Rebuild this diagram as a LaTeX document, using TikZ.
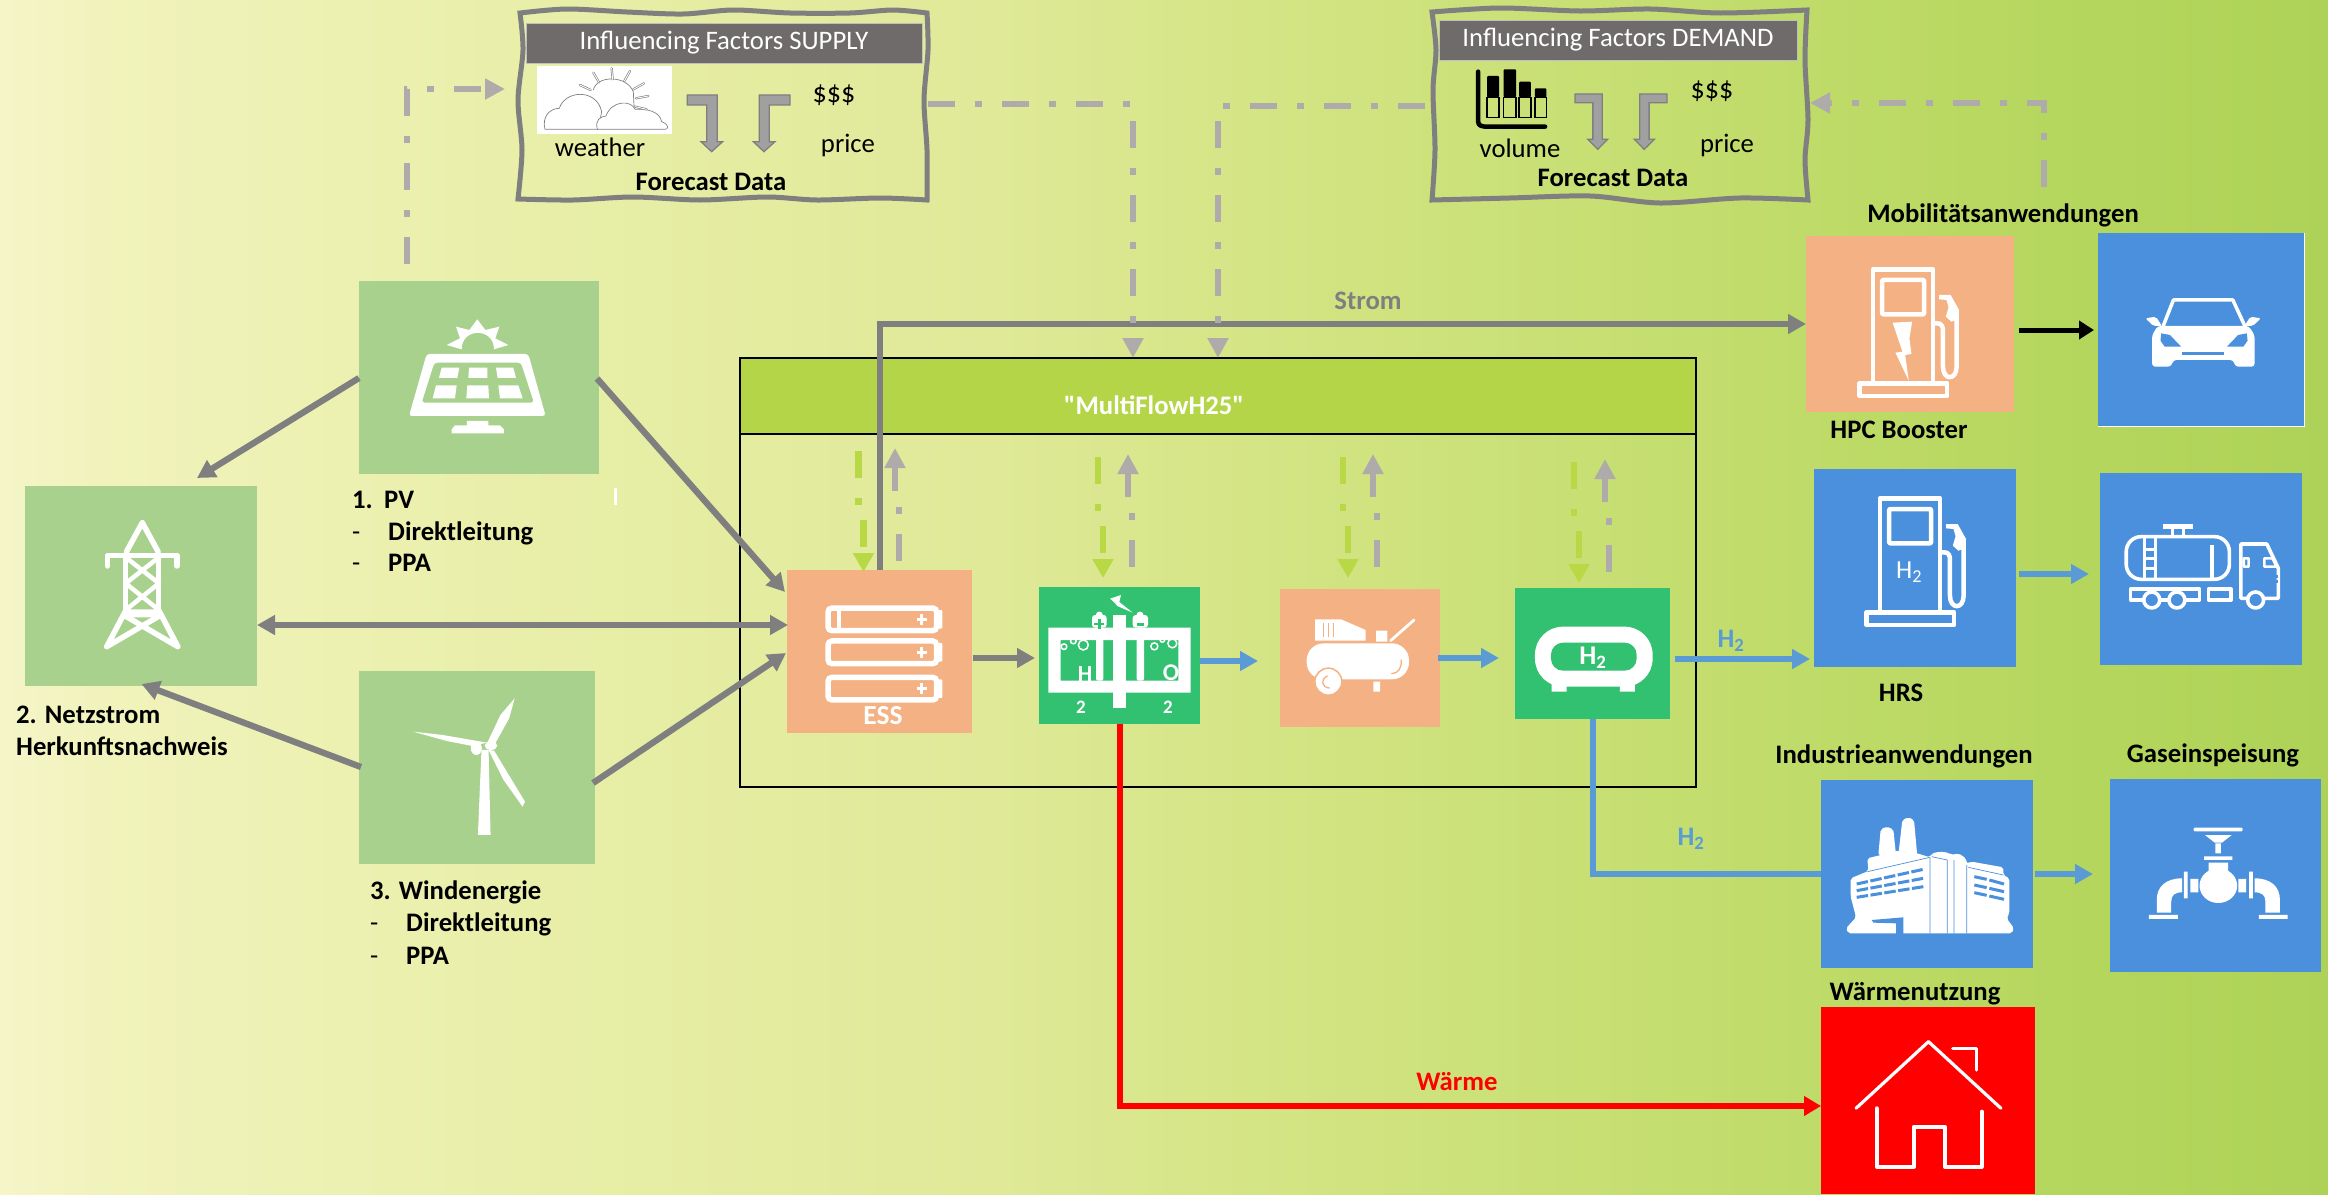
\documentclass[tikz,border=0pt]{standalone}
\usepackage{fontspec}
\setmainfont{Carlito}
\newfontfamily\rawcarlito{Carlito}
\usetikzlibrary{arrows.meta,calc}
\definecolor{bg0}{HTML}{F5F5C9}\definecolor{bg1}{HTML}{F1F3BC}\definecolor{bg2}{HTML}{E9EFAA}
\definecolor{bg3}{HTML}{DFE997}\definecolor{bg4}{HTML}{D5E586}\definecolor{bg5}{HTML}{C3DD6E}
\definecolor{bg6}{HTML}{B4D65C}\definecolor{bg7}{HTML}{AED257}
\pgfdeclarehorizontalshading{bgshade}{100bp}{color(0bp)=(bg0); color(25bp)=(bg0); color(27.1bp)=(bg1); color(35.7bp)=(bg2); color(46.5bp)=(bg3); color(51.6bp)=(bg4); color(61.5bp)=(bg5); color(70.1bp)=(bg6); color(75bp)=(bg7); color(100bp)=(bg7)}
\definecolor{srcgreen}{HTML}{A9D18E}\definecolor{peach}{HTML}{F4B183}\definecolor{h2green}{HTML}{32C071}
\definecolor{appblue}{HTML}{4A90DD}\definecolor{linegrey}{HTML}{7F7F7F}\definecolor{siggrey}{HTML}{AFABAB}
\definecolor{siggreen}{HTML}{B8D846}\definecolor{headgreen}{HTML}{B4D548}\definecolor{flowblue}{HTML}{5B9BD5}
\definecolor{headgrey}{HTML}{6F6B6B}\definecolor{bentgrey}{HTML}{A0A0A0}
\tikzset{
 nbox/.style={draw=none,inner sep=0pt,outer sep=0pt},
 lbl/.style={inner sep=0pt,text height=20pt,text depth=3pt,font=\fontsize{26.7}{30}\selectfont\bfseries,text=black},
 rgl/.style={inner sep=0pt,text height=20pt,text depth=3pt,font=\fontsize{26.7}{30}\selectfont,text=black},
 flowg/.style={draw=linegrey,line width=6.3pt,-{Triangle[length=18pt,width=19pt]}},
 flowb/.style={draw=flowblue,line width=6pt,-{Triangle[length=18pt,width=19pt]}},
 sigdash/.style={dash pattern=on 27pt off 20pt on 7pt off 20pt},
 sigg/.style={draw=siggrey,line width=6.7pt,sigdash,-{Triangle[length=20pt,width=20pt]}},
 sigb/.style={draw=siggreen,line width=6.7pt,sigdash,-{Triangle[length=19pt,width=20pt]}},
 iconline/.style={draw=white,line width=4.5pt,line join=round},
 rough/.style={draw=linegrey,line width=5pt,line join=miter},
 bent/.style={draw=linegrey,line width=1.3pt,fill=bentgrey},
}
\newcommand\pumpicon{
 \draw[iconline] (266,148) rectangle (438,490);
 \draw[iconline,rounded corners=1pt] (292,180) rectangle (412,283);
 \draw[iconline] (227,490) rectangle (478,528);
 \draw[iconline] (438,310) -- (450,310) .. controls (462,310) and (466,320) .. (466,332) -- (466,440) .. controls (466,482) and (505,482) .. (505,440) -- (505,270);
 \fill[white] (455,225) -- (488,225) -- (512,270) -- (510,298) -- (490,305) -- (474,290) -- (482,262) -- (476,240) -- (455,238) -- cycle;
}
\newcommand\sigpair[4]{%
 \coordinate (t#1) at ($(#1.north west)+(#2,#3)$);
 \draw[sigb] ($(t#1)+(-5,-121)$) -- ($(t#1)+(-5,-60.5)$) -- ($(t#1)+(0,-60.5)$) -- (t#1);
 \draw[sigg] ($(t#1)+(#4,-11)$) -- ($(t#1)+(#4,-71)$) -- ($(t#1)+(#4-4,-71)$) -- ($(t#1)+(#4-4,-124)$);
}
\begin{document}
\begin{tikzpicture}[x=1pt,y=-1pt]
\useasboundingbox (0,0) rectangle (2328,1194);
\shade[shading=bgshade] (0,0) rectangle (2328,1194);
% container
\fill[headgreen] (740,358) rectangle (1696,434);
\draw[black,line width=1.8pt] (740,358) rectangle (1696,787);
\draw[black,line width=1.8pt] (740,434) -- (1696,434);
\node[inner sep=0pt,text=white,font=\fontsize{26.7}{30}\selectfont\rawcarlito\bfseries] (mf) at (1154,405) {"MultiFlowH25"};
% boxes
\node[nbox,fill=srcgreen,minimum width=240pt,minimum height=193pt] (pv) at (479,377.5) {};
\node[nbox,fill=srcgreen,minimum width=232pt,minimum height=200pt] (grid) at (141,586) {};
\node[nbox,fill=srcgreen,minimum width=236pt,minimum height=193pt] (wind) at (477,767.5) {};
\node[nbox,fill=peach,minimum width=185pt,minimum height=163pt] (ess) at (879.5,651.5) {};
\node[nbox,fill=h2green,minimum width=161pt,minimum height=137pt] (elec) at (1119.5,655.5) {};
\node[nbox,fill=peach,minimum width=160pt,minimum height=138pt] (comp) at (1360,658) {};
\node[nbox,fill=h2green,minimum width=155pt,minimum height=131pt] (tank) at (1592.5,653.5) {};
\node[nbox,fill=peach,minimum width=208pt,minimum height=176pt] (hpc) at (1910,324) {};
\node[nbox,fill=appblue,minimum width=206pt,minimum height=193pt] (car) at (2201,329.5) {};
\node[nbox,fill=appblue,minimum width=202pt,minimum height=198pt] (hrs) at (1915,568) {};
\node[nbox,fill=appblue,minimum width=202pt,minimum height=192pt] (truck) at (2201,569) {};
\node[nbox,fill=appblue,minimum width=212pt,minimum height=188pt] (ind) at (1927,874) {};
\node[nbox,fill=appblue,minimum width=211pt,minimum height=193pt] (gas) at (2215.5,875.5) {};
\node[nbox,fill=red,minimum width=214pt,minimum height=187pt] (house) at (1928,1100.5) {};
\draw[white,line width=.9pt] (car.north east) -- (car.south east) -- (car.south west);
% supply box
\draw[rough] plot[smooth,tension=.5] coordinates {(520,13)(567,9)(627,12)(683,14)(733,10)(790,13)(850,13)(893,10)(927,13)}
 -- plot[smooth,tension=.5] coordinates {(927,13)(928,50)(924,100)(927,150)(927,200)}
 -- plot[smooth,tension=.5] coordinates {(927,200)(880,198)(817,200)(767,197)(700,200)(633,197)(573,200)(518,199)}
 -- plot[smooth,tension=.5] coordinates {(518,199)(522,150)(518,100)(523,50)(520,13)} -- cycle;
\node[nbox,fill=headgrey,draw=lightgray,line width=.6pt,minimum width=396pt,minimum height=40pt,text=white,font=\fontsize{26.7}{28}\selectfont] (suphead) at (724,43) {Influencing Factors SUPPLY};
\node[nbox,fill=white,minimum width=135pt,minimum height=68pt] (cloud) at (604.5,100) {};
\begin{scope}[shift={(500,0)},x=.3333pt,y=-.3333pt,draw=gray,line width=.7pt]
 \draw (280,270) .. controls (290,225) and (380,225) .. (400,275) -- (402,318);
 \draw[fill=white] (135,388) .. controls (125,350) and (150,325) .. (178,325) .. controls (195,270) and (290,265) .. (305,335) -- (295,388) -- cycle;
 \draw[fill=white] (292,388) .. controls (285,360) and (300,350) .. (318,348) .. controls (335,300) and (395,300) .. (405,328) .. controls (440,325) and (480,335) .. (485,365) .. controls (510,375) and (505,388) .. (495,388) -- cycle;
 \foreach \a/\b/\c/\d in {240/255/272/270, 280/218/297/247, 335/205/338/238, 390/213/373/243, 432/250/400/268, 445/288/408/295, 440/328/405/320}{
  \draw[line width=2.2pt,line cap=round] (\a,\b) -- (\c,\d);
  \draw[white,line width=.9pt,line cap=round] (\a,\b) -- (\c,\d);}
 \draw[bent] (562,285) -- (652,285) -- (652,425) -- (668,425) -- (635,455) -- (603,425) -- (620,425) -- (620,315) -- (562,315) -- cycle;
 \draw[bent] (870,285) -- (778,285) -- (778,425) -- (760,425) -- (792,455) -- (825,425) -- (808,425) -- (808,315) -- (870,315) -- cycle;
\end{scope}
\node[rgl] (weather) at (600,148) {weather};
\node[rgl,font=\fontsize{28}{30}\selectfont] (supd) at (834,94) {\$\$\$};
\node[rgl] (supp) at (848,144) {price};
\node[lbl] (supf) at (711,182) {Forecast Data};
% demand box
\draw[rough] plot[smooth,tension=.5] coordinates {(1432,12)(1500,8)(1580,11)(1650,9)(1720,13)(1807,10)}
 -- plot[smooth,tension=.5] coordinates {(1807,10)(1805,60)(1808,120)(1805,160)(1808,200)}
 -- plot[smooth,tension=.5] coordinates {(1808,200)(1740,198)(1660,203)(1590,196)(1510,198)(1432,200)}
 -- plot[smooth,tension=.5] coordinates {(1432,200)(1435,150)(1433,90)(1436,50)(1432,12)} -- cycle;
\node[nbox,fill=headgrey,draw=lightgray,line width=.6pt,minimum width=358pt,minimum height=40pt,text=white,font=\fontsize{26.7}{28}\selectfont] (demhead) at (1618,40) {Influencing Factors DEMAND};
\begin{scope}[shift={(1400,0)},x=.4464pt,y=-.3333pt]
 \draw[black,line width=4.5pt,line cap=round] (175,215) -- (175,365) .. controls (175,378) and (185,380) .. (195,380) -- (325,380);
 \foreach \a/\b/\t in {195/222/228, 232/260/208, 267/293/245, 302/328/265}{
  \fill[black,rounded corners=1pt] (\a,\t) rectangle (\b,292);
  \draw[black,line width=1.6pt] (\a,292) rectangle (\b,352);}
 \draw[bent] (392,282) -- (453,282) -- (453,418) -- (465,418) -- (443,448) -- (421,418) -- (432,418) -- (432,308) -- (392,308) -- cycle;
 \draw[bent] (598,282) -- (537,282) -- (537,418) -- (525,418) -- (547,448) -- (570,418) -- (558,418) -- (558,308) -- (598,308) -- cycle;
\end{scope}
\node[rgl] (volume) at (1520,149) {volume};
\node[rgl,font=\fontsize{28}{30}\selectfont] (demd) at (1712,90) {\$\$\$};
\node[rgl] (demp) at (1727,144) {price};
\node[lbl] (demf) at (1613,178) {Forecast Data};
% PV icon
\begin{scope}[shift={(340,270)},x=.3333pt,y=-.3333pt]
 \fill[white,even odd rule,rounded corners=3pt] (260,252) -- (565,252) -- (617,438) -- (207,438) -- cycle (283,278) -- (543,278) -- (582,398) -- (245,398) -- cycle;
 \fill[white] (305,293) -- (358,293) -- (352,324) -- (297,324) -- cycle (387,293) -- (442,293) -- (442,324) -- (385,324) -- cycle (468,293) -- (520,293) -- (528,324) -- (473,324) -- cycle
  (288,346) -- (350,346) -- (345,385) -- (278,385) -- cycle (382,346) -- (445,346) -- (447,385) -- (379,385) -- cycle (475,346) -- (535,346) -- (548,385) -- (480,385) -- cycle;
 \fill[white] (381,453) -- (445,453) -- (445,466) -- (480,466) -- (492,478) -- (492,490) -- (335,490) -- (335,478) -- (345,466) -- (381,466) -- cycle;
 \fill[white] (320,225) -- (360,205) -- (348,170) -- (388,180) -- (412,148) -- (436,180) -- (478,170) -- (466,205) -- (505,225) -- (462,238) .. controls (462,172) and (365,172) .. (365,238) -- cycle;
\end{scope}
% tower icon
\begin{scope}[shift={(0,480)},x=.3953pt,y=-.3333pt,line cap=round]
 \draw[iconline,line width=5.5pt] (360,128) -- (320,215) (360,128) -- (400,215);
 \draw[iconline,line width=5.5pt] (272,258) -- (272,226) -- (448,226) -- (448,258);
 \draw[iconline,line width=5pt] (318,228) -- (318,392) (402,228) -- (402,392);
 \draw[iconline,line width=4.5pt] (318,232) -- (402,310) (402,232) -- (318,310) (318,310) -- (402,390) (402,310) -- (318,390);
 \fill[white] (316,388) -- (404,388) -- (412,412) -- (308,412) -- cycle;
 \draw[iconline,line width=5.5pt] (318,392) -- (270,500) (402,392) -- (450,500) (320,410) -- (450,500) (400,410) -- (270,500);
\end{scope}
% wind icon
\begin{scope}[shift={(0,480)},x=.3953pt,y=-.3333pt]
 \fill[white] (1218,810) -- (1236,810) -- (1241,1065) -- (1209,1065) -- cycle;
 \fill[white] (1232,790) -- (1266,705) -- (1302,655) -- (1288,715) -- (1252,792) -- cycle;
 \fill[white] (1045,755) -- (1120,765) -- (1232,788) -- (1195,798) -- (1130,783) -- cycle;
 \fill[white] (1236,810) -- (1250,812) -- (1328,965) -- (1322,980) -- (1274,900) -- cycle;
 \fill[white] (1205,805) ellipse [x radius=14,y radius=20];
 \fill[white] (1242,797) ellipse [x radius=16,y radius=13];
\end{scope}
% ESS icon
\begin{scope}[shift={(760,540)},x=.3333pt,y=-.3333pt]
 \foreach \t/\b in {204/272,303/371,412/480}{
  \draw[white,line width=5.5pt,rounded corners=4pt] (204,\t) rectangle (530,\b);
  \fill[white,rounded corners=1pt] (530,\t+6) rectangle (547,\b-6);
  \draw[white,line width=3pt] (470,{(\t+\b)/2}) -- (502,{(\t+\b)/2}) (486,{(\t+\b)/2-16}) -- (486,{(\t+\b)/2+16});
 }
 \fill[white] (231,213) rectangle (243,263);
\end{scope}
\node[inner sep=0pt,text=white,font=\fontsize{27.5}{30}\selectfont\bfseries] (esst) at (883,716) {ESS};
% electrolyser icon
\begin{scope}[shift={(1040,590)},x=.3333pt,y=-.3333pt]
 \fill[white,even odd rule] (25,113) rectangle (452,308) (62,150) rectangle (415,272);
 \fill[white] (220,75) rectangle (257,353);
 \fill[white,rounded corners=2pt] (168,113) rectangle (190,272) (290,113) rectangle (312,272);
 \fill[white,rounded corners=3pt] (156,75) rectangle (200,113) (278,75) rectangle (324,113);
 \fill[white] (178,75) circle [radius=3.5pt] (300,75) circle [radius=3.5pt];
 \draw[h2green,line width=2.6pt] (163,102) -- (193,102) (178,87) -- (178,117) (292,104) -- (312,104);
 \fill[white] (210,26) -- (243,15) -- (238,36) -- (278,68) -- (232,48) -- (224,38) -- cycle;
 \draw[white,line width=1.5pt] (72,170) circle [radius=2.8pt] (100,153) circle [radius=2.8pt] (130,165) circle [radius=5pt] (343,169) circle [radius=3.5pt] (367,150) circle [radius=2.2pt] (397,160) circle [radius=4.5pt];
\end{scope}
\node[inner sep=0pt,text=white,font=\fontsize{23}{28}\selectfont\bfseries] (hh) at (1085,674) {H};
\node[inner sep=0pt,text=white,font=\fontsize{24}{28}\selectfont\bfseries] (oo) at (1171,673) {O};
\node[inner sep=0pt,text=white,font=\fontsize{19}{20}\selectfont\bfseries] (h2) at (1081,707) {2};
\node[inner sep=0pt,text=white,font=\fontsize{19}{20}\selectfont\bfseries] (o2) at (1168,707) {2};
% compressor icon
\begin{scope}[shift={(1240,540)},x=.3333pt,y=-.3333pt]
 \fill[white,rounded corners=17pt] (200,310) rectangle (507,418);
 \fill[white] (225,238) -- (303,238) -- (377,270) -- (377,302) -- (225,302) -- cycle;
 \draw[peach,line width=1.2pt] (250,250) -- (250,290) (265,250) -- (265,290) (280,250) -- (280,290);
 \fill[white] (408,272) rectangle (442,305) (400,425) rectangle (420,455);
 \draw[white,line width=2.8pt,line cap=round] (452,302) -- (522,240);
 \draw[peach,line width=1.3pt,line cap=round] (484,360) .. controls (485,385) and (475,400) .. (455,401);
 \fill[white,draw=peach,line width=1.5pt] (265,425) circle [radius=13.5pt];
 \draw[peach,line width=1.3pt,line cap=round] (262,408) .. controls (240,418) and (245,442) .. (268,444);
\end{scope}
% tank icon
\begin{scope}[shift={(1240,540)},x=.3333pt,y=-.3333pt]
 \fill[white,rounded corners=28pt] (885,260) rectangle (1238,440);
 \fill[white] (935,430) rectangle (980,455) (1140,430) rectangle (1185,455);
 \fill[h2green,rounded corners=12pt] (933,308) rectangle (1190,392);
\end{scope}
\node[inner sep=0pt,text=white,font=\fontsize{27}{30}\selectfont\bfseries] (tankt) at (1593,658) {H\textsubscript{2}};
% charger and pump icons
\begin{scope}[shift={(1780,220)},x=.3497pt,y=-.3333pt]
 \pumpicon
 \fill[white] (322,308) -- (378,305) -- (370,355) -- (376,402) -- (358,405) -- (368,482) -- (330,398) -- (350,395) -- cycle;
\end{scope}
\begin{scope}[shift={(1780,220)},x=.3497pt,y=-.3333pt,yshift=-229pt,xshift=7pt]
 \pumpicon
\end{scope}
\node[inner sep=0pt,text=white,font=\fontsize{26}{28}\selectfont] (hrst) at (1909,572) {H\textsubscript{2}};
% car icon
\begin{scope}[shift={(1780,220)},x=.3497pt,y=-.3333pt]
 \draw[white,line width=3.5pt,line join=round] (1095,320) -- (1125,240) -- (1295,240) -- (1330,320);
 \fill[white,rounded corners=3pt] (1080,318) -- (1340,318) -- (1357,345) -- (1357,440) -- (1302,440) -- (1296,420) -- (1125,420) -- (1118,440) -- (1064,440) -- (1064,345) -- cycle;
 \fill[white,rounded corners=2pt] (1045,295) -- (1075,290) -- (1092,318) -- (1068,318) -- cycle (1375,295) -- (1345,290) -- (1328,318) -- (1352,318) -- cycle;
 \fill[appblue] (1090,340) -- (1115,345) -- (1147,380) -- (1100,380) -- (1088,362) -- cycle (1335,340) -- (1310,345) -- (1278,380) -- (1325,380) -- (1337,362) -- cycle;
 \fill[appblue] (1150,395) rectangle (1270,405);
\end{scope}
% truck icon
\begin{scope}[shift={(1780,220)},x=.3497pt,y=-.3333pt]
 \draw[iconline,line width=3.6pt,rounded corners=15pt] (990,950) rectangle (1285,1078);
 \fill[white] (1095,912) rectangle (1182,928);
 \draw[iconline,line width=3pt] (1122,928) -- (1122,948) (1155,928) -- (1155,948);
 \draw[iconline,line width=3pt] (1042,955) -- (1042,1075) (1075,955) -- (1075,1075) (1042,990) -- (1075,990) (1042,1015) -- (1075,1015) (1042,1045) -- (1075,1045);
 \draw[iconline,line width=3.4pt] (1235,975) -- (1235,1075);
 \draw[iconline,line width=3.4pt] (1003,1107) rectangle (1200,1140) (1225,1107) rectangle (1290,1140);
 \draw[iconline,line width=3.6pt] (1318,972) -- (1392,972) -- (1425,1045) -- (1425,1135) -- (1318,1135) -- cycle;
 \draw[iconline,line width=2.6pt] (1326,1015) rectangle (1340,1040) (1385,1015) -- (1408,1015) -- (1420,1040) -- (1385,1040) -- cycle;
 \draw[appblue,line width=3pt] (1400,1070) -- (1425,1070) (1400,1085) -- (1425,1085);
 \foreach \wx in {1063,1135,1360}{\draw[iconline,line width=3.6pt,fill=appblue] (\wx,1140) circle [radius=8pt];}
\end{scope}
% factory icon
\begin{scope}[shift={(1830,810)},x=.3333pt,y=-.3333pt]
 \fill[white,rounded corners=2pt] (145,135) -- (152,58) -- (170,50) -- (190,58) -- (198,135) -- cycle (205,135) -- (217,30) -- (235,22) -- (252,30) -- (262,140) -- cycle;
 \fill[white,rounded corners=2pt] (112,145) -- (205,122) -- (262,130) -- (300,142) -- (305,130) -- (330,125) -- (355,128) -- (365,135) -- (385,130) -- (408,145) -- (410,160) -- (425,155) -- (520,172) -- (520,195) -- (538,205) -- (538,310) -- (530,325) -- (552,355) -- (545,370) -- (55,370) -- (48,355) -- (78,322) -- (62,260) -- (62,205) -- (115,183) -- cycle;
 \fill[appblue] (125,330) -- (220,322) -- (220,372) -- (198,372) -- (198,340) -- (130,338) -- cycle;
 \draw[appblue,line width=.7pt] (300,142) -- (300,370) (352,150) -- (352,370) (372,150) -- (372,370) (410,165) -- (410,370) (305,140) -- (352,150) (415,172) -- (520,195) (112,185) -- (300,142);
 \draw[appblue,line width=3pt,dash pattern=on 11.5pt off 2.5pt] (80,222) -- (280,178) (80,242) -- (280,205) (80,262) -- (280,230);
 \draw[appblue,line width=3pt] (433,200) -- (470,208) (478,210) -- (522,222) (433,225) -- (470,233) (478,235) -- (522,245) (433,248) -- (470,256) (478,258) -- (522,268);
\end{scope}
% valve icon
\begin{scope}[shift={(1760,720)},x=.3623pt,y=-.3333pt]
 \fill[white,rounded corners=1pt] (1197,323) rectangle (1332,334);
 \fill[white] (1228,345) -- (1302,345) -- (1275,368) -- (1255,368) -- cycle (1257,370) rectangle (1272,400) (1226,409) rectangle (1304,420) (1238,428) rectangle (1292,460);
 \fill[white] (1265,497) ellipse [x radius=52,y radius=52];
 \fill[white] (1170,455) rectangle (1180,535) (1350,455) rectangle (1360,535) (1188,477) rectangle (1210,517) (1320,477) rectangle (1342,517);
 \fill[white] (1165,475) .. controls (1120,475) and (1095,500) .. (1095,540) -- (1095,578) -- (1135,578) -- (1135,545) .. controls (1135,525) and (1145,517) .. (1165,517) -- cycle;
 \fill[white] (1365,475) .. controls (1410,475) and (1435,500) .. (1435,540) -- (1435,578) -- (1395,578) -- (1395,545) .. controls (1395,525) and (1385,517) .. (1365,517) -- cycle;
 \fill[white] (1073,585) rectangle (1153,597) (1377,585) rectangle (1456,597);
\end{scope}
% house icon
\begin{scope}[shift={(1760,720)},x=.3623pt,y=-.3333pt,line cap=round]
 \draw[iconline,line width=3.2pt] (265,1165) -- (465,965) -- (665,1165);
 \draw[iconline,line width=3.2pt] (532,985) -- (598,985) -- (598,1050);
 \draw[iconline,line width=4pt] (322,1165) -- (322,1340) -- (425,1340) -- (425,1220) -- (510,1220) -- (510,1340) -- (612,1340) -- (612,1175);
\end{scope}
% stray mark
\fill[white] (614,488) rectangle (616.5,505);
% labels
\node[lbl,anchor=west] (l1a) at (352,500) {1.};
\node[lbl,anchor=west] (l1b) at (384,500) {PV};
\node[rgl,anchor=west] (l1c) at (352,532) {-};
\node[lbl,anchor=west] (l1d) at (388,532) {Direktleitung};
\node[rgl,anchor=west] (l1e) at (352,563) {-};
\node[lbl,anchor=west] (l1f) at (388,563) {PPA};
\node[lbl,anchor=west] (l2a) at (16,715) {2. Netzstrom};
\node[lbl,anchor=west] (l2b) at (16,747) {Herkunftsnachweis};
\node[lbl,anchor=west] (l3a) at (370,891) {3. Windenergie};
\node[rgl,anchor=west] (l3c) at (370,923) {-};
\node[lbl,anchor=west] (l3d) at (406,923) {Direktleitung};
\node[rgl,anchor=west] (l3e) at (370,956) {-};
\node[lbl,anchor=west] (l3f) at (406,956) {PPA};
\node[lbl] (lmob) at (2003,214) {Mobilitätsanwendungen};
\node[lbl] (lhpc) at (1899,430) {HPC Booster};
\node[lbl] (lhrs) at (1901,693) {HRS};
\node[lbl] (lind) at (1904,755) {Industrieanwendungen};
\node[lbl] (lgas) at (2213,754) {Gaseinspeisung};
\node[lbl] (lwae) at (1915,992) {Wärmenutzung};
\node[lbl,text=red] (lw) at (1457,1082) {Wärme};
\node[lbl,text=linegrey] (lst) at (1368,301) {Strom};
\node[lbl,text=flowblue] (lh1) at (1731,639) {H\textsubscript{2}};
\node[lbl,text=flowblue] (lh2) at (1691,837) {H\textsubscript{2}};
% solid connectors
\draw[flowg] ($(pv.west)+(0,.5)$) -- ($(grid.north)+(56,-8)$);
\draw[flowg] ($(pv.east)+(-2,1)$) -- ($(ess.north west)+(-2,22)$);
\draw[draw=linegrey,line width=6.3pt,{Triangle[length=18pt,width=19pt]}-{Triangle[length=18pt,width=19pt]}] ($(grid.east)+(0,39)$) -- ($(ess.west)+(1,-26.5)$);
\draw[flowg] ($(wind.west)+(2,-.5)$) -- ($(grid.south)+(.5,-2)$);
\draw[flowg] ($(wind.east)+(-2,15.5)$) -- ($(ess.west)+(-1,1.5)$);
\draw[flowg] ($(ess.east)+(1,6.5)$) -- ($(elec.west)+(-4,2.5)$);
\draw[flowb] ($(elec.east)+(0,5.5)$) -- ($(comp.west)+(-22,3)$);
\draw[flowb] ($(comp.east)+(-2,0)$) -- ($(tank.west)+(-16,4.5)$);
\draw[flowb] ($(tank.east)+(5,5.5)$) -- ($(hrs.west)+(-4,91)$);
\draw[flowb] ($(hrs.east)+(3,6)$) -- ($(truck.west)+(-11,5)$);
\draw[flowb] ($(ind.east)+(2,0)$) -- ($(gas.west)+(-17,-1.5)$);
\draw[line width=5pt,black,-{Triangle[length=15pt,width=18pt]}] ($(hpc.east)+(5,6)$) -- ($(car.west)+(-4,.5)$);
\draw[draw=linegrey,line width=6.3pt,-{Triangle[length=18pt,width=19pt]}] ($(ess.north)+(.5,0)$) |- (hpc.west);
\draw[draw=flowblue,line width=6pt] (tank.south) ++(.5,0) |- (ind.west);
\draw[draw=red,line width=6pt,-{Triangle[length=17pt,width=19pt]}] (elec.south) |- ($(house.west)+(0,5.5)$);
% dash-dot connectors
\draw[sigg] (pv.north) ++(-72,-17) coordinate (pvup) -- (pvup |- 0,89) -- (505,89);
\draw[sigg] ($(suphead.east)+(6,61)$) -- (1133,104) -- (1133,358);
\draw[sigg] (1425,106) -- (1218,106) -- (1218,358);
\draw[sigg] (2044,187) -- (2044,103) -- (1810,103);
% signal pairs
\sigpair{ess}{76.5}{2}{35.5}
\sigpair{elec}{64}{-9}{29}
\sigpair{comp}{68}{-11}{29}
\sigpair{tank}{64}{-5}{30}
\end{tikzpicture}
\end{document}
